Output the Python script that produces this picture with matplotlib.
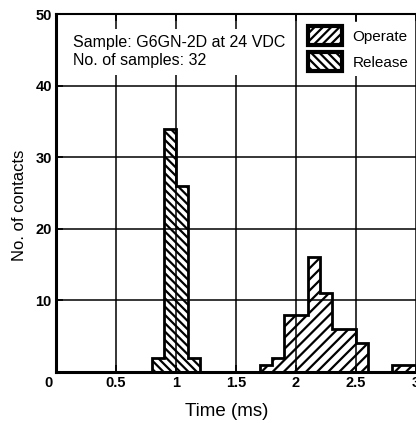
import matplotlib.pyplot as plt
from matplotlib.patches import Patch

# Data (counts per 0.1 ms bin)
operate_edges = [1.7, 1.8, 1.9, 2.0, 2.1, 2.2, 2.3, 2.4, 2.5, 2.6, 2.7, 2.8, 2.9, 3.0]
operate_counts = [1, 2, 8, 8, 16, 11, 6, 6, 4, 0, 0, 1, 1]
release_edges = [0.8, 0.9, 1.0, 1.1, 1.2]
release_counts = [2, 34, 26, 2]

x_ticks = [0, 0.5, 1, 1.5, 2, 2.5, 3]
x_labels = ['', '0.5', '1', '1.5', '2', '2.5', '3']
y_ticks = [0, 10, 20, 30, 40, 50]
y_labels = ['', '10', '20', '30', '40', '50']

plt.rcParams['font.family'] = ['Liberation Sans', 'DejaVu Sans']
plt.rcParams['hatch.linewidth'] = 1.6

fig = plt.figure(figsize=(4.16, 4.23), dpi=100)
ax = fig.add_axes([56 / 416, 51 / 423, 420 / 416, 358 / 423])

ax.stairs(operate_counts, operate_edges, fill=True, facecolor='none',
          edgecolor='black', hatch='///', linewidth=2, zorder=3)
ax.stairs(release_counts, release_edges, fill=True, facecolor='none',
          edgecolor='black', hatch='\\\\\\\\', linewidth=2, zorder=3)

ax.set_xlim(0, 3.5)
ax.set_ylim(0, 50)
ax.set_xticks(x_ticks)
ax.set_xticklabels(x_labels, fontweight='bold', fontsize=10.5)
ax.set_yticks(y_ticks)
ax.set_yticklabels(y_labels, fontweight='bold', fontsize=10.5)
ax.tick_params(direction='in', top=True, length=5, width=1.2, pad=3)
ax.grid(True, color='black', linewidth=1.1)
ax.set_axisbelow(False)

for s in ['left', 'bottom']:
    ax.spines[s].set_linewidth(2.2)
ax.spines['top'].set_linewidth(1.5)
ax.spines['right'].set_visible(False)

# shared "0" at the corner
ax.text(-0.065, -1.55, '0', fontsize=10.5, fontweight='bold', ha='center', va='center',
        clip_on=False)

fig.text(227 / 416, 1 - 411 / 423, 'Time (ms)', fontsize=13.5, ha='center', va='center')
fig.text(19.5 / 416, 1 - 205 / 423, 'No. of contacts', rotation=90, fontsize=12,
         ha='center', va='center')

ax.text(0.14, 47.0, 'Sample: G6GN-2D at 24 VDC\nNo. of samples: 32', fontsize=11.5,
        va='top', ha='left', linespacing=1.2, zorder=4,
        bbox=dict(facecolor='white', edgecolor='none', pad=5))

handles = [Patch(facecolor='white', edgecolor='black', hatch='////', linewidth=3),
           Patch(facecolor='white', edgecolor='black', hatch='\\\\\\\\', linewidth=3)]
leg = ax.legend(handles, ['Operate', 'Release'], loc='upper left',
                bbox_to_anchor=(2.0 / 3.5, 1.0), frameon=True, fontsize=11,
                handlelength=2.2, handleheight=1.55, handletextpad=0.7,
                labelspacing=0.45, borderpad=0.3, fancybox=False)
leg.get_frame().set_edgecolor('none')
leg.get_frame().set_alpha(1)
leg.set_zorder(5)

fig.savefig('out.png', dpi=100)
